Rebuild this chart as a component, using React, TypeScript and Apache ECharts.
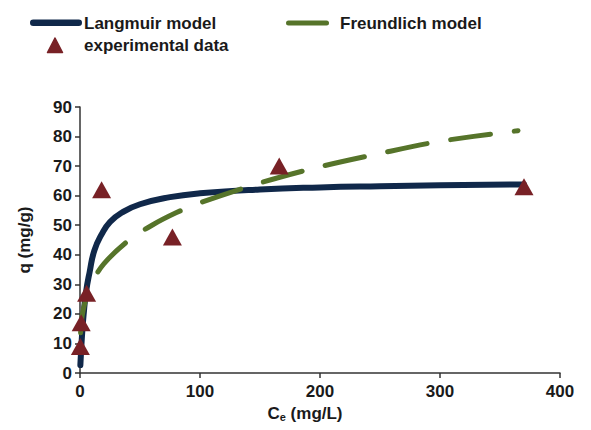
import React, { useEffect, useRef } from "react";
import * as echarts from "echarts";

const xTicks = [0, 100, 200, 300, 400];
const yTicks = [0, 10, 20, 30, 40, 50, 60, 70, 80, 90];

const seriesNames = ["Langmuir model", "Freundlich model", "experimental data"];

// experimental data (Ce, q)
const expC = [0.3, 1, 5.5, 18, 77, 166, 370];
const expQ = [9, 17, 27, 62, 46, 70, 63];

// Langmuir model curve
const langC = [0.3, 1, 2, 3, 5, 8, 12, 18, 25, 35, 50, 75, 100, 150, 200, 250, 300, 370];
const langQ = [2.7, 8.2, 14.6, 19.7, 27.3, 34.1, 41.5, 46.9, 51.1, 54.3, 57.1, 59.5, 60.8, 62.1, 62.8, 63.2, 63.5, 63.8];

// Freundlich model curve
const freC = [0.5, 1, 2, 5, 10, 20, 40, 60, 80, 100, 150, 200, 250, 300, 365];
const freQ = [13.6, 16.4, 19.8, 25.2, 30.7, 37, 44.7, 50, 54.2, 57.6, 64.3, 69.8, 74.3, 78.4, 82];

const pairs = (xs: number[], ys: number[]) => xs.map((x, i) => [x, ys[i]]);

const NAVY = "#10284a";
const GREEN = "#56742a";
const RED = "#782126";
const TEXT = "#1a1a1a";
const FONT = "Liberation Sans, Arial, sans-serif";

export default function App() {
  const ref = useRef<HTMLDivElement>(null);
  useEffect(() => {
    if (!ref.current) return;
    const chart = echarts.init(ref.current, undefined, { renderer: "svg" });
    const legendFont = { fontFamily: FONT, fontWeight: "bold", fontSize: 17, fill: TEXT, textVerticalAlign: "middle", verticalAlign: "middle" };
    chart.setOption({
      animation: false,
      backgroundColor: "#ffffff",
      grid: { left: 80, right: 31, top: 107, bottom: 57, containLabel: false },
      graphic: [
        { type: "rect", shape: { x: 30, y: 19.5, width: 52, height: 6.5, r: 3.25 }, style: { fill: NAVY } },
        { type: "text", x: 84, y: 23, style: { text: seriesNames[0], ...legendFont } },
        { type: "rect", shape: { x: 286, y: 20.5, width: 43, height: 5, r: 2.5 }, style: { fill: GREEN } },
        { type: "text", x: 340, y: 23, style: { text: seriesNames[1], ...legendFont } },
        { type: "polygon", shape: { points: [[55, 38], [47.5, 52.5], [62.5, 52.5]] }, style: { fill: RED, stroke: RED, lineWidth: 1.5, lineJoin: "round" } },
        { type: "text", x: 84, y: 45, style: { text: seriesNames[2], ...legendFont } },
      ],
      xAxis: {
        type: "value",
        min: 0,
        max: 400,
        interval: 100,
        name: "{c|C}{s|e}{c| (mg/L)}",
        nameLocation: "middle",
        nameGap: 28,
        nameTextStyle: {
          padding: [0, 30, 0, 0],
          rich: {
            c: { fontFamily: FONT, fontWeight: "bold", fontSize: 17, color: TEXT },
            s: { fontFamily: FONT, fontWeight: "bold", fontSize: 11, color: TEXT, verticalAlign: "bottom", padding: [8, 0, 0, 0] },
          },
        },
        axisLine: { show: true, lineStyle: { color: "#333", width: 1.5 } },
        axisTick: { show: true, length: 5, lineStyle: { color: "#333", width: 1.5 } },
        axisLabel: {
          fontFamily: FONT,
          fontWeight: "bold",
          fontSize: 17,
          color: TEXT,
          margin: 10,
          formatter: (v: number) => (xTicks.includes(v) ? String(v) : ""),
        },
        splitLine: { show: false },
      },
      yAxis: {
        type: "value",
        min: 0,
        max: 90,
        interval: 10,
        name: "q (mg/g)",
        nameLocation: "middle",
        nameGap: 47,
        nameTextStyle: { fontFamily: FONT, fontWeight: "bold", fontSize: 17, color: TEXT },
        axisLine: { show: true, lineStyle: { color: "#333", width: 1.5 } },
        axisTick: { show: true, length: 5, lineStyle: { color: "#333", width: 1.5 } },
        axisLabel: {
          fontFamily: FONT,
          fontWeight: "bold",
          fontSize: 17,
          color: TEXT,
          margin: 8,
          formatter: (v: number) => (yTicks.includes(v) ? String(v) : ""),
        },
        splitLine: { show: false },
      },
      series: [
        {
          name: seriesNames[0],
          type: "line",
          data: pairs(langC, langQ),
          smooth: true,
          showSymbol: false,
          symbol: "none",
          lineStyle: { color: NAVY, width: 6, cap: "round", join: "round" },
          itemStyle: { color: NAVY },
          z: 2,
        },
        {
          name: seriesNames[1],
          type: "line",
          data: pairs(freC, freQ),
          smooth: 0.3,
          showSymbol: false,
          symbol: "none",
          lineStyle: { color: GREEN, width: 5, type: [40, 24], cap: "round" },
          itemStyle: { color: GREEN },
          z: 3,
        },
        {
          name: seriesNames[2],
          type: "scatter",
          data: pairs(expC, expQ),
          symbol: "triangle",
          symbolSize: [19, 17],
          itemStyle: { color: RED, opacity: 1 },
          z: 4,
        },
      ],
    });
    return () => chart.dispose();
  }, []);
  return (
    <div
      ref={ref}
      style={{ position: "fixed", left: 0, top: 0, width: 591, height: 430, background: "#fff" }}
    />
  );
}
